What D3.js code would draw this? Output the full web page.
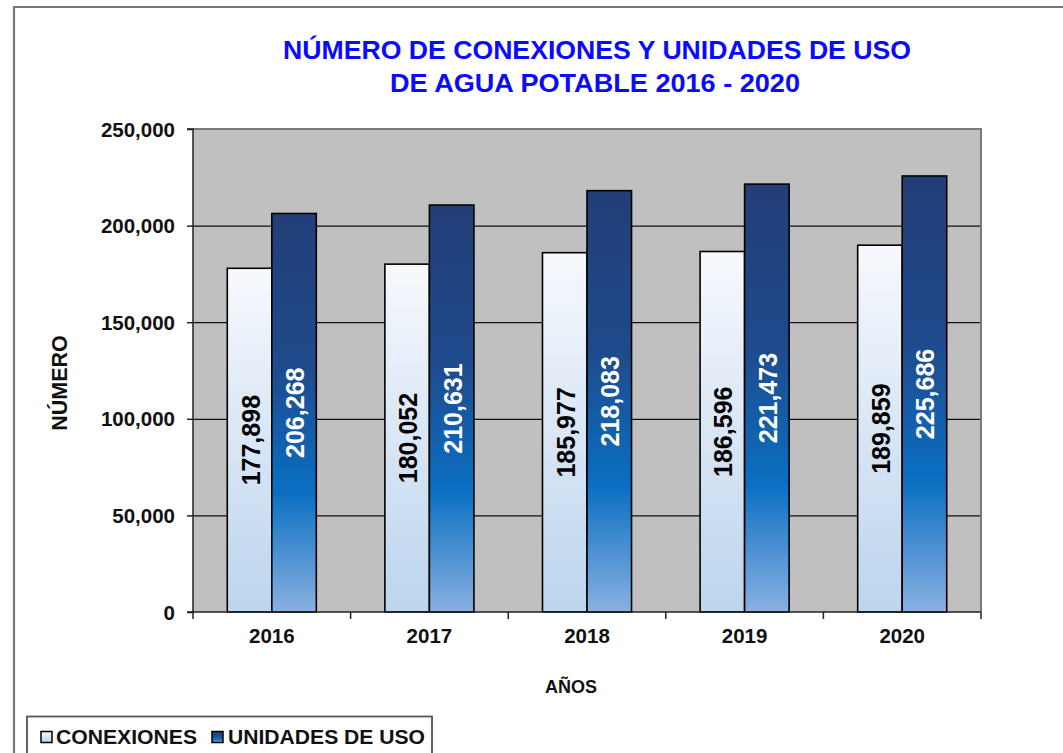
<!DOCTYPE html>
<html><head><meta charset="utf-8">
<script src="https://cdn.jsdelivr.net/npm/d3@7"></script>
<style>
body{margin:0;background:#fff;}
svg{display:block;font-family:"Liberation Sans",Arial,sans-serif;}
</style></head>
<body><svg id="c" width="1063" height="753"></svg>
<script>
const years = ["2016","2017","2018","2019","2020"];
const seriesNames = ["CONEXIONES","UNIDADES DE USO"];
const conexiones = [177898,180052,185977,186596,189859];
const unidades = [206268,210631,218083,221473,225686];
const yTicks = [0,50000,100000,150000,200000,250000];
const titleLines = ["NÚMERO  DE CONEXIONES  Y UNIDADES  DE USO","DE AGUA POTABLE 2016 - 2020"];

const svg = d3.select("#c");
const W = 1063, H = 753;
const P = {l:193, r:981, t:129, b:612};

// outer frame
svg.append("path").attr("d",`M14,${H+2} L14,7 L${W+2},7`).attr("fill","none").attr("stroke","#777").attr("stroke-width",2.2);

// defs gradients
const defs = svg.append("defs");
const g1 = defs.append("linearGradient").attr("id","gC").attr("x1",0).attr("y1",0).attr("x2",0).attr("y2",1);
g1.append("stop").attr("offset","0").attr("stop-color","#f7f9fd");
g1.append("stop").attr("offset","0.5").attr("stop-color","#d9e6f5");
g1.append("stop").attr("offset","1").attr("stop-color","#bcd5ee");
const g2 = defs.append("linearGradient").attr("id","gU").attr("x1",0).attr("y1",0).attr("x2",0).attr("y2",1);
g2.append("stop").attr("offset","0").attr("stop-color","#233e78");
g2.append("stop").attr("offset","0.38").attr("stop-color","#1f4a8c");
g2.append("stop").attr("offset","0.7").attr("stop-color","#0a6fc2");
g2.append("stop").attr("offset","1").attr("stop-color","#8ab0e2");

// scales
const x0 = d3.scaleBand().domain(years).range([P.l,P.r]).paddingInner(0.435).paddingOuter(0.2175);
const x1 = d3.scaleBand().domain(seriesNames).range([0,x0.bandwidth()]);
const y = d3.scaleLinear().domain([0,250000]).range([P.b,P.t]);

// plot background
svg.append("rect").attr("x",P.l).attr("y",P.t).attr("width",P.r-P.l).attr("height",P.b-P.t).attr("fill","#c0c0c0");

// gridlines
const grid = svg.append("g").attr("transform",`translate(${P.l},0)`)
  .call(d3.axisLeft(y).tickValues(yTicks.filter(d=>d>0)).tickSize(-(P.r-P.l)).tickFormat(""));
grid.select(".domain").remove();
grid.selectAll("line").attr("stroke","#111").attr("stroke-width",1.2);

// plot border (top/right)
svg.append("path").attr("d",`M${P.l},${P.t} L${P.r},${P.t} L${P.r},${P.b}`).attr("fill","none").attr("stroke","#7a7a7a").attr("stroke-width",2);

// bars
const data = years.map((yr,i)=>({year:yr, vals:[{s:seriesNames[0],v:conexiones[i]},{s:seriesNames[1],v:unidades[i]}]}));
const grp = svg.append("g").selectAll("g").data(data).join("g").attr("transform",d=>`translate(${x0(d.year)},0)`);
grp.selectAll("rect").data(d=>d.vals).join("rect")
  .attr("x",d=>x1(d.s)).attr("y",d=>y(d.v)).attr("width",x1.bandwidth()).attr("height",d=>y(0)-y(d.v))
  .attr("fill",(d,i)=>i===0?"url(#gC)":"url(#gU)").attr("stroke","#000").attr("stroke-width",1.6);
grp.selectAll("text").data(d=>d.vals).join("text")
  .attr("transform",d=>`translate(${x1(d.s)+x1.bandwidth()/2+10},${(y(d.v)+y(0))/2}) rotate(-90)`)
  .attr("text-anchor","middle").attr("font-size",25).attr("font-weight","bold")
  .attr("fill",(d,i)=>i===0?"#000":"#fff").text(d=>d3.format(",")(d.v));

// y axis
const ya = svg.append("g").attr("transform",`translate(${P.l},0)`)
  .call(d3.axisLeft(y).tickValues(yTicks).tickSize(6).tickPadding(12).tickFormat(d3.format(",")));
ya.select(".domain").attr("stroke","#222").attr("stroke-width",1.5).attr("d",`M-6,${P.t}H0V${P.b}H-6`);
ya.selectAll("line").attr("stroke","#222").attr("stroke-width",1.5);
ya.selectAll("text").attr("font-size",20.5).attr("font-weight","bold").attr("fill","#111").attr("font-family","Liberation Sans, Arial, sans-serif").attr("dy","0.35em");

// x axis
const xa = svg.append("g").attr("transform",`translate(0,${P.b})`)
  .call(d3.axisBottom(x0).tickSize(0).tickPadding(16));
xa.select(".domain").attr("stroke","#222").attr("stroke-width",1.5).attr("d",`M${P.l},0H${P.r}`);
xa.selectAll("text").attr("font-size",20.5).attr("font-weight","bold").attr("fill","#111").attr("font-family","Liberation Sans, Arial, sans-serif");
const step = x0.step();
xa.selectAll(".bound").data(d3.range(years.length+1)).join("line").attr("class","bound")
  .attr("x1",i=>P.l+i*step).attr("x2",i=>P.l+i*step).attr("y1",0).attr("y2",7)
  .attr("stroke","#222").attr("stroke-width",1.5);

// axis titles
svg.append("text").attr("transform",`translate(67,383) rotate(-90)`).attr("text-anchor","middle")
  .attr("font-size",21.5).attr("font-weight","bold").attr("fill","#111").text("NÚMERO");
svg.append("text").attr("x",571).attr("y",693).attr("text-anchor","middle")
  .attr("font-size",18).attr("font-weight","bold").attr("fill","#111").text("AÑOS");

// title
svg.append("text").attr("x",597).attr("y",59).attr("text-anchor","middle")
  .attr("font-size",26).attr("font-weight","bold").attr("fill","#0a0aff")
  .attr("textLength",628).attr("lengthAdjust","spacingAndGlyphs").text(titleLines[0]);
svg.append("text").attr("x",595).attr("y",92).attr("text-anchor","middle")
  .attr("font-size",26).attr("font-weight","bold").attr("fill","#0a0aff")
  .attr("textLength",410).attr("lengthAdjust","spacingAndGlyphs").text(titleLines[1]);

// legend
svg.append("rect").attr("x",27).attr("y",716.5).attr("width",405).attr("height",60).attr("fill","#fff").attr("stroke","#555").attr("stroke-width",1.8);
const leg = [{s:seriesNames[0],f:"url(#gC)",mx:41,tx:56,tl:141},{s:seriesNames[1],f:"url(#gU)",mx:212,tx:228,tl:197}];
leg.forEach(l=>{
  svg.append("rect").attr("x",l.mx).attr("y",731.5).attr("width",11).attr("height",11).attr("fill",l.f).attr("stroke","#000").attr("stroke-width",1.5);
  svg.append("text").attr("x",l.tx).attr("y",743.5).attr("font-size",20).attr("font-weight","bold").attr("fill","#111")
    .attr("textLength",l.tl).attr("lengthAdjust","spacingAndGlyphs").text(l.s);
});
</script></body></html>
